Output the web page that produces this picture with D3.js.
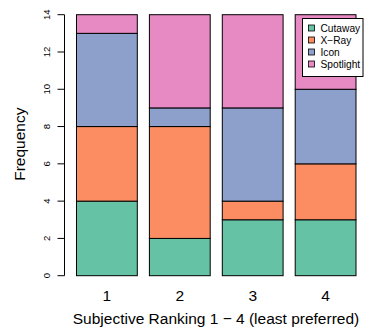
<!DOCTYPE html>
<html><head><meta charset="utf-8">
<script src="https://cdn.jsdelivr.net/npm/d3@7"></script>
<style>body{margin:0;background:#fff}svg{display:block}text{font-family:"Liberation Sans",Arial,sans-serif}</style>
</head><body>
<script>
const categories = ["1","2","3","4"];
const seriesNames = ["Cutaway","X\u2212Ray","Icon","Spotlight"];
const cutaway = [4,2,3,3];
const xray = [4,6,1,3];
const icon = [5,1,5,4];
const spotlight = [1,5,5,4];
const yTicks = [0,2,4,6,8,10,12,14];
const colors = ["#66C2A5","#FC8D62","#8DA0CB","#E78AC3"];

const W=367,H=329;
const svg=d3.select("body").append("svg").attr("width",W).attr("height",H);
const y=d3.scaleLinear().domain([0,14]).range([275.7,14.7]);
const data=categories.map((c,i)=>({cat:c,Cutaway:cutaway[i],"X\u2212Ray":xray[i],Icon:icon[i],Spotlight:spotlight[i]}));
const stack=d3.stack().keys(seriesNames)(data);
const bw=60.8, step=72.9, x0=76.5;
const xs=d3.scaleLinear().domain([0,3]).range([x0, x0+3*step]);
stack.forEach((layer,li)=>{
  svg.append("g").selectAll("rect").data(layer).join("rect")
    .attr("x",(d,i)=>xs(i)).attr("width",bw)
    .attr("y",d=>y(d[1])).attr("height",d=>y(d[0])-y(d[1]))
    .attr("fill",colors[li]).attr("stroke","#000").attr("stroke-width",1);
});
// y axis
const ax=svg.append("g").attr("transform","translate(64.5,0)");
ax.append("line").attr("y1",y(0)).attr("y2",y(14)).attr("stroke","#000");
yTicks.forEach(t=>{
  ax.append("line").attr("x1",-7).attr("x2",0).attr("y1",y(t)).attr("y2",y(t)).attr("stroke","#000");
  ax.append("text").attr("transform",`translate(-14.5,${y(t)}) rotate(-90)`).attr("text-anchor","middle")
    .attr("font-size",9.6).text(t);
});
svg.append("text").attr("transform",`translate(25,${y(7)-1}) rotate(-90)`).attr("text-anchor","middle")
  .attr("font-size",15.5).text("Frequency");
categories.forEach((c,i)=>{
  svg.append("text").attr("x",xs(i)+bw/2).attr("y",300.5).attr("text-anchor","middle").attr("font-size",15.5).text(c);
});
svg.append("text").attr("x",216).attr("y",324).attr("text-anchor","middle").attr("font-size",15.5)
  .text("Subjective Ranking 1 \u2212 4 (least preferred)");
// legend
const lg=svg.append("g");
lg.append("rect").attr("x",302.5).attr("y",18.5).attr("width",60.5).attr("height",58).attr("fill","#fff").attr("stroke","#000");
seriesNames.forEach((s,i)=>{
  const yy=28+i*12;
  lg.append("rect").attr("x",308.5).attr("y",yy-3).attr("width",6).attr("height",6).attr("fill",colors[i]).attr("stroke","#000").attr("stroke-width",0.8);
  lg.append("text").attr("x",320.5).attr("y",yy+3.7).attr("font-size",10.2).text(s);
});
</script>
</body></html>
